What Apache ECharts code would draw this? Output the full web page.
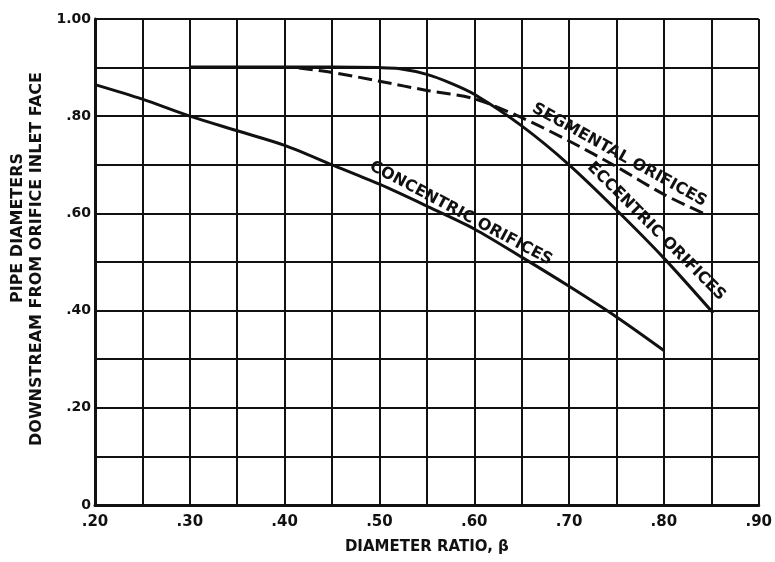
<!DOCTYPE html>
<html>
<head>
<meta charset="utf-8">
<script src="https://cdn.jsdelivr.net/npm/echarts@6/dist/echarts.min.js"></script>
<style>
html,body{margin:0;padding:0;background:#fff;}
#c{width:775px;height:562px;}
</style>
</head>
<body>
<div id="c"></div>
<script>
// Diameter ratio (beta) and pipe diameters downstream
const concentricBeta = [0.20, 0.25, 0.30, 0.35, 0.40, 0.45, 0.50, 0.55, 0.60, 0.65, 0.70, 0.75, 0.80];
const concentricL    = [0.865, 0.835, 0.80, 0.77, 0.74, 0.70, 0.66, 0.615, 0.568, 0.51, 0.45, 0.387, 0.318];

const eccentricBeta = [0.30, 0.35, 0.40, 0.45, 0.50, 0.52, 0.55, 0.575, 0.60, 0.65, 0.70, 0.75, 0.80, 0.852];
const eccentricL    = [0.901, 0.901, 0.901, 0.901, 0.900, 0.898, 0.886, 0.868, 0.845, 0.78, 0.70, 0.607, 0.508, 0.395];

const segmentalBeta = [0.415, 0.45, 0.50, 0.55, 0.60, 0.65, 0.70, 0.75, 0.80, 0.845];
const segmentalL    = [0.899, 0.89, 0.872, 0.853, 0.836, 0.797, 0.749, 0.696, 0.639, 0.597];

const xTickValues = [20, 30, 40, 50, 60, 70, 80, 90];
const xTickLabels = ['.20', '.30', '.40', '.50', '.60', '.70', '.80', '.90'];
const yTickValues = [0, 20, 40, 60, 80, 100];
const yTickLabels = ['0', '.20', '.40', '.60', '.80', '1.00'];

const yTitleLine1 = 'PIPE DIAMETERS';
const yTitleLine2 = 'DOWNSTREAM FROM ORIFICE INLET FACE';
const xTitle = 'DIAMETER RATIO, β';

const zip = (xs, ys) => xs.map((x, i) => [x, ys[i]]);
const INK = '#111';
const FONT = 'DejaVu Sans';

function curveLabel(text, coord, rot) {
  return {
    symbol: 'circle', symbolSize: 0, silent: true,
    data: [{ coord: coord }],
    label: {
      show: true, formatter: text, position: 'inside', rotate: rot,
      color: INK, fontFamily: FONT, fontWeight: 'bold', fontSize: 16
    }
  };
}

const chart = echarts.init(document.getElementById('c'), null, { renderer: 'canvas' });
chart.setOption({
  backgroundColor: '#fff',
  animation: false,
  grid: { left: 95, right: 12, top: 19, bottom: 57 },
  graphic: [
    { type: 'text', x: 18, y: 228, rotation: Math.PI / 2,
      style: { text: yTitleLine1, fill: INK, font: 'bold 16px "DejaVu Sans"', align: 'center', verticalAlign: 'middle' } },
    { type: 'text', x: 37, y: 259, rotation: Math.PI / 2,
      style: { text: yTitleLine2, fill: INK, font: 'bold 16px "DejaVu Sans"', align: 'center', verticalAlign: 'middle' } }
  ],
  xAxis: {
    type: 'value', min: 0.20, max: 0.90, interval: 0.05,
    name: xTitle, nameLocation: 'middle', nameGap: 35,
    nameTextStyle: { color: INK, fontFamily: FONT, fontWeight: 'bold', fontSize: 15 },
    axisLine: { show: true, lineStyle: { color: INK, width: 3 } },
    axisTick: { show: false },
    axisLabel: {
      color: INK, fontFamily: FONT, fontWeight: 'bold', fontSize: 15, margin: 10,
      formatter: v => { const i = xTickValues.indexOf(Math.round(v * 100)); return i >= 0 ? xTickLabels[i] : ''; }
    },
    splitLine: { show: true, lineStyle: { color: INK, width: 2 } }
  },
  yAxis: {
    type: 'value', min: 0, max: 1, interval: 0.1,
    axisLine: { show: true, lineStyle: { color: INK, width: 3 } },
    axisTick: { show: false },
    axisLabel: {
      color: INK, fontFamily: FONT, fontWeight: 'bold', fontSize: 14, margin: 4,
      formatter: v => { const i = yTickValues.indexOf(Math.round(v * 100)); return i >= 0 ? yTickLabels[i] : ''; }
    },
    splitLine: { show: true, lineStyle: { color: INK, width: 2 } }
  },
  series: [
    {
      name: 'Concentric', type: 'line', data: zip(concentricBeta, concentricL),
      smooth: 0.3, showSymbol: false, lineStyle: { color: INK, width: 3 },
      markPoint: curveLabel('CONCENTRIC ORIFICES', [0.586, 0.600], -28)
    },
    {
      name: 'Eccentric', type: 'line', data: zip(eccentricBeta, eccentricL),
      smooth: 0.3, showSymbol: false, lineStyle: { color: INK, width: 3 },
      markPoint: curveLabel('ECCENTRIC ORIFICES', [0.792, 0.563], -45)
    },
    {
      name: 'Segmental', type: 'line', data: zip(segmentalBeta, segmentalL),
      smooth: 0.3, showSymbol: false, lineStyle: { color: INK, width: 3, type: [14, 6] },
      markPoint: curveLabel('SEGMENTAL ORIFICES', [0.753, 0.720], -29)
    }
  ]
});
</script>
</body>
</html>
